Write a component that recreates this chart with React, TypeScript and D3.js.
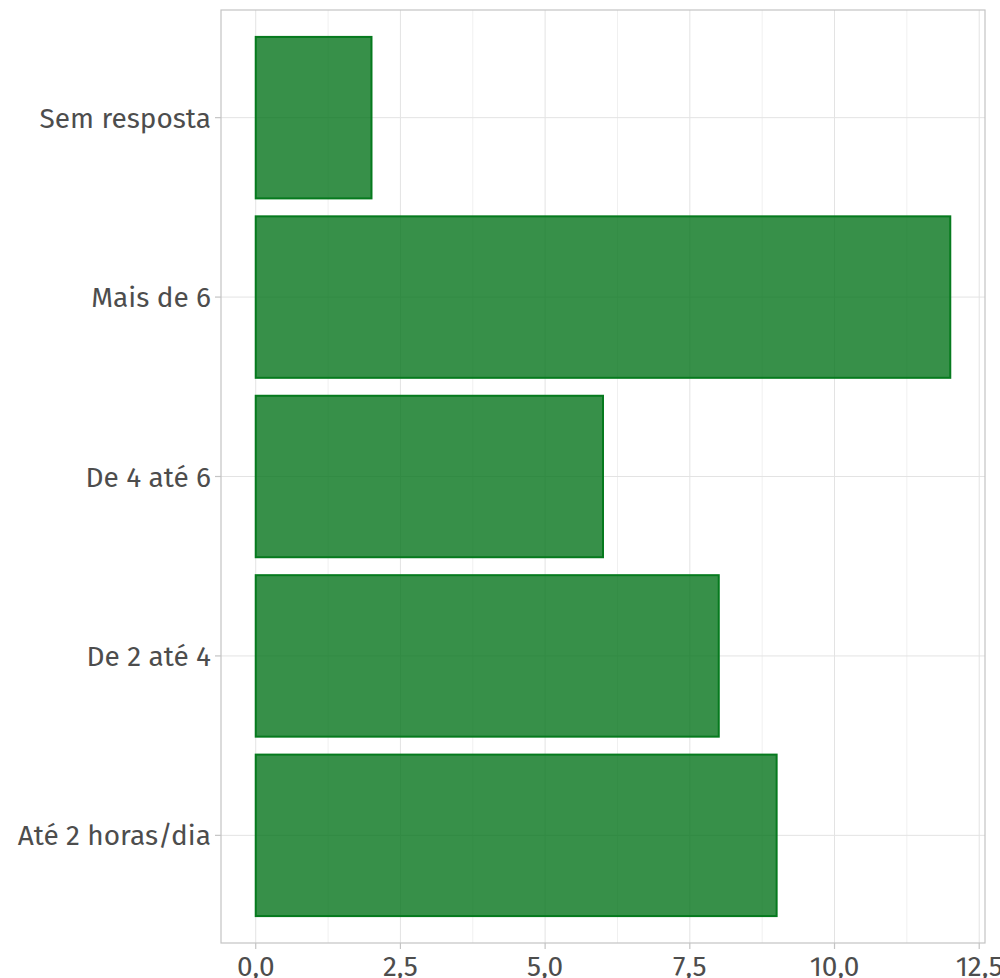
import * as d3 from 'd3'
import { useEffect } from 'react'

const categories = ['Sem resposta', 'Mais de 6', 'De 4 até 6', 'De 2 até 4', 'Até 2 horas/dia']
const counts = [2, 12, 6, 8, 9]
const xTicks = [0, 2.5, 5, 7.5, 10, 12.5]
const xMinor = [1.25, 3.75, 6.25, 8.75, 11.25]

const W = 1000
const H = 978
const panel = { left: 221, top: 10, right: 985, bottom: 943 }
const font = '"Fira Sans", "Open Sans", sans-serif'
const fmt = (v: number) => v.toFixed(1).replace('.', ',')

export default function App(){
  useEffect(()=>{ document.body.style.margin = '0' }, [])

  const x = d3.scaleLinear().domain([-0.6, 12.6]).range([panel.left, panel.right])
  const y = d3.scaleBand<string>().domain(categories).range([panel.top, panel.bottom]).paddingInner(0.1).paddingOuter(0.15)
  const bw = y.bandwidth()

  return (
    <svg width={W} height={H} style={{ display: 'block', fontFamily: font }}>
      <rect x={0} y={0} width={W} height={H} fill="#fff" />
      {/* grid */}
      {xMinor.map(t=> (
        <line key={'mn'+t} x1={x(t)} x2={x(t)} y1={panel.top} y2={panel.bottom} stroke="#f0f0f0" strokeWidth={1} />
      ))}
      {xTicks.map(t=> (
        <line key={'mj'+t} x1={x(t)} x2={x(t)} y1={panel.top} y2={panel.bottom} stroke="#e3e3e3" strokeWidth={1} />
      ))}
      {categories.map(c=> (
        <line key={'h'+c} x1={panel.left} x2={panel.right} y1={y(c)! + bw/2} y2={y(c)! + bw/2} stroke="#e3e3e3" strokeWidth={1} />
      ))}
      {/* bars */}
      {categories.map((c, i)=> (
        <rect key={c} x={x(0)} y={y(c)} width={x(counts[i]) - x(0)} height={bw}
          fill="#05741c" fillOpacity={0.8} stroke="#067a1e" strokeWidth={2} />
      ))}
      {/* panel border */}
      <rect x={panel.left} y={panel.top} width={panel.right - panel.left} height={panel.bottom - panel.top}
        fill="none" stroke="#c4c4c4" strokeWidth={1.2} />
      {/* y axis */}
      {categories.map(c=> (
        <g key={'yt'+c} transform={`translate(0,${y(c)! + bw/2})`}>
          <line x1={panel.left - 6} x2={panel.left} stroke="#c4c4c4" strokeWidth={1.2} />
          <text x={panel.left - 10} dy="0.36em" textAnchor="end" fontSize={28} fill="#4d4d4d">{c}</text>
        </g>
      ))}
      {/* x axis */}
      {xTicks.map(t=> (
        <g key={'xt'+t} transform={`translate(${x(t)},0)`}>
          <line y1={panel.bottom} y2={panel.bottom + 6} stroke="#c4c4c4" strokeWidth={1.2} />
          <text y={panel.bottom + 33} textAnchor="middle" fontSize={28} fill="#4d4d4d">{fmt(t)}</text>
        </g>
      ))}
    </svg>
  )
}
